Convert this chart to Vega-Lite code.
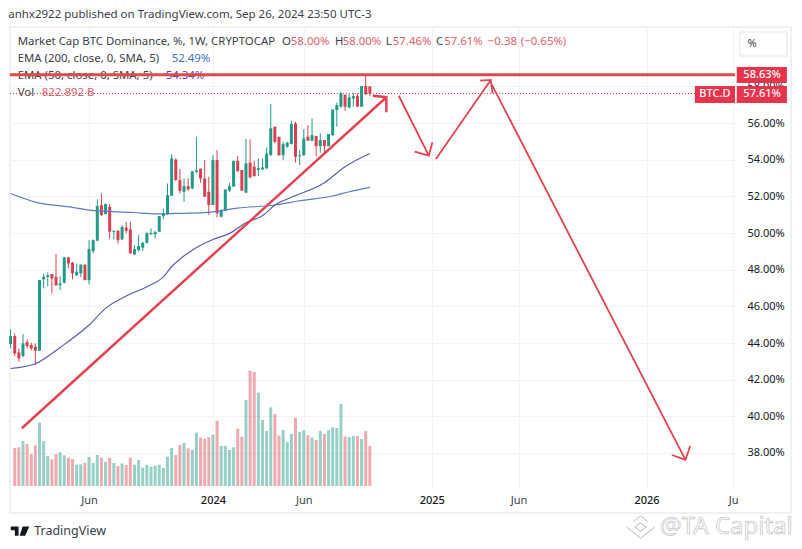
{
  "$schema": "https://vega.github.io/schema/vega-lite/v6.json",
  "autosize": {"type": "none"},
  "padding": {"left": 10, "top": 27, "right": 67, "bottom": 61},
  "width": 725,
  "height": 461,
  "background": "white",
  "config": {"view": {"stroke": null}, "font": "Noto Sans"},
  "title": {"text": "anhx2922 published on TradingView.com, Sep 26, 2024 23:50 UTC-3", "anchor": "start", "offset": 6, "font": "Noto Sans", "fontSize": 11.5, "fontWeight": "normal", "color": "#3a3e4a"},
  "datasets": {
    "candles": [
      {"date":"2023-01-23","open":43.94,"high":44.74,"low":43.70,"close":44.38},
      {"date":"2023-01-30","open":44.38,"high":44.52,"low":43.29,"close":43.43,"volume":782},
      {"date":"2023-02-06","open":43.49,"high":43.70,"low":42.98,"close":43.16,"volume":796},
      {"date":"2023-02-13","open":43.29,"high":44.49,"low":43.21,"close":43.98,"volume":926},
      {"date":"2023-02-20","open":44.05,"high":44.20,"low":43.70,"close":43.83,"volume":864},
      {"date":"2023-02-27","open":43.89,"high":44.01,"low":43.61,"close":43.70,"volume":659},
      {"date":"2023-03-06","open":43.80,"high":43.98,"low":42.80,"close":43.58,"volume":837},
      {"date":"2023-03-13","open":43.58,"high":47.43,"low":43.58,"close":47.43,"volume":1303},
      {"date":"2023-03-20","open":47.47,"high":47.76,"low":46.98,"close":47.61,"volume":926},
      {"date":"2023-03-27","open":47.61,"high":47.85,"low":47.10,"close":47.70,"volume":617},
      {"date":"2023-04-03","open":47.76,"high":47.76,"low":46.70,"close":47.52,"volume":549},
      {"date":"2023-04-10","open":47.61,"high":48.85,"low":47.14,"close":47.14,"volume":659},
      {"date":"2023-04-17","open":47.16,"high":47.65,"low":46.89,"close":47.25,"volume":693},
      {"date":"2023-04-24","open":47.29,"high":48.70,"low":47.25,"close":48.67,"volume":631},
      {"date":"2023-05-01","open":48.67,"high":48.70,"low":48.07,"close":48.34,"volume":583},
      {"date":"2023-05-08","open":48.38,"high":48.43,"low":47.47,"close":47.80,"volume":556},
      {"date":"2023-05-15","open":47.70,"high":48.34,"low":47.65,"close":47.89,"volume":439},
      {"date":"2023-05-22","open":47.80,"high":48.30,"low":47.61,"close":48.27,"volume":446},
      {"date":"2023-05-29","open":48.27,"high":48.30,"low":47.43,"close":47.43,"volume":473},
      {"date":"2023-06-05","open":47.43,"high":49.61,"low":47.20,"close":49.12,"volume":597},
      {"date":"2023-06-12","open":49.01,"high":49.65,"low":48.89,"close":49.61,"volume":473},
      {"date":"2023-06-19","open":49.58,"high":51.83,"low":49.58,"close":51.47,"volume":638},
      {"date":"2023-06-26","open":51.52,"high":52.16,"low":50.92,"close":50.98,"volume":583},
      {"date":"2023-07-03","open":51.03,"high":51.61,"low":51.03,"close":51.58,"volume":494},
      {"date":"2023-07-10","open":51.43,"high":51.58,"low":49.70,"close":50.07,"volume":583},
      {"date":"2023-07-17","open":50.07,"high":50.16,"low":49.65,"close":50.12,"volume":473},
      {"date":"2023-07-24","open":50.12,"high":50.16,"low":49.43,"close":49.61,"volume":412},
      {"date":"2023-07-31","open":49.65,"high":50.43,"low":49.61,"close":50.34,"volume":466},
      {"date":"2023-08-07","open":50.30,"high":50.61,"low":49.98,"close":50.12,"volume":432},
      {"date":"2023-08-14","open":50.20,"high":50.61,"low":48.85,"close":48.89,"volume":583},
      {"date":"2023-08-21","open":48.83,"high":49.34,"low":48.80,"close":49.12,"volume":439},
      {"date":"2023-08-28","open":49.07,"high":49.89,"low":48.98,"close":49.29,"volume":535},
      {"date":"2023-09-04","open":49.20,"high":49.52,"low":49.03,"close":49.47,"volume":377},
      {"date":"2023-09-11","open":49.47,"high":50.07,"low":49.43,"close":49.98,"volume":439},
      {"date":"2023-09-18","open":49.94,"high":50.25,"low":49.90,"close":50.01,"volume":398},
      {"date":"2023-09-25","open":49.94,"high":50.12,"low":49.70,"close":50.05,"volume":418},
      {"date":"2023-10-02","open":50.07,"high":50.92,"low":50.07,"close":50.92,"volume":439},
      {"date":"2023-10-09","open":50.92,"high":51.34,"low":50.74,"close":51.07,"volume":370},
      {"date":"2023-10-16","open":51.03,"high":52.70,"low":50.98,"close":52.07,"volume":604},
      {"date":"2023-10-23","open":52.03,"high":54.30,"low":52.03,"close":54.07,"volume":782},
      {"date":"2023-10-30","open":54.01,"high":54.07,"low":52.85,"close":52.89,"volume":638},
      {"date":"2023-11-06","open":52.89,"high":53.49,"low":52.16,"close":52.30,"volume":844},
      {"date":"2023-11-13","open":52.25,"high":52.98,"low":51.70,"close":52.56,"volume":885},
      {"date":"2023-11-20","open":52.56,"high":52.98,"low":52.30,"close":52.38,"volume":775},
      {"date":"2023-11-27","open":52.43,"high":53.40,"low":52.38,"close":53.36,"volume":741},
      {"date":"2023-12-04","open":53.34,"high":55.25,"low":53.25,"close":53.43,"volume":1098},
      {"date":"2023-12-11","open":53.51,"high":53.51,"low":52.74,"close":52.98,"volume":995},
      {"date":"2023-12-18","open":52.98,"high":53.98,"low":51.98,"close":51.98,"volume":974},
      {"date":"2023-12-25","open":52.25,"high":53.07,"low":50.98,"close":51.53,"volume":1002},
      {"date":"2024-01-01","open":51.53,"high":54.25,"low":51.53,"close":53.98,"volume":1056},
      {"date":"2024-01-08","open":53.98,"high":54.53,"low":50.85,"close":51.07,"volume":1345},
      {"date":"2024-01-15","open":50.89,"high":51.29,"low":50.85,"close":51.22,"volume":823},
      {"date":"2024-01-22","open":51.22,"high":52.38,"low":51.22,"close":52.38,"volume":823},
      {"date":"2024-01-29","open":52.31,"high":52.74,"low":52.25,"close":52.56,"volume":741},
      {"date":"2024-02-05","open":52.53,"high":53.94,"low":52.53,"close":53.94,"volume":796},
      {"date":"2024-02-12","open":53.94,"high":54.20,"low":53.34,"close":53.38,"volume":1180},
      {"date":"2024-02-19","open":53.44,"high":53.44,"low":52.31,"close":52.31,"volume":1015},
      {"date":"2024-02-26","open":52.20,"high":55.13,"low":52.20,"close":53.80,"volume":1770},
      {"date":"2024-03-04","open":53.84,"high":55.11,"low":52.98,"close":53.04,"volume":2374},
      {"date":"2024-03-11","open":53.62,"high":53.94,"low":53.07,"close":53.11,"volume":2346},
      {"date":"2024-03-18","open":53.44,"high":54.07,"low":53.11,"close":53.54,"volume":1921},
      {"date":"2024-03-25","open":53.47,"high":54.07,"low":53.44,"close":53.58,"volume":1358},
      {"date":"2024-04-01","open":53.53,"high":54.67,"low":53.49,"close":54.34,"volume":1132},
      {"date":"2024-04-08","open":54.25,"high":57.04,"low":54.20,"close":55.71,"volume":1619},
      {"date":"2024-04-15","open":55.80,"high":55.80,"low":54.89,"close":54.98,"volume":1482},
      {"date":"2024-04-22","open":55.25,"high":55.25,"low":54.20,"close":54.25,"volume":1036},
      {"date":"2024-04-29","open":54.25,"high":54.98,"low":53.98,"close":54.85,"volume":1152},
      {"date":"2024-05-06","open":54.71,"high":54.98,"low":54.65,"close":54.93,"volume":906},
      {"date":"2024-05-13","open":54.85,"high":56.13,"low":54.85,"close":55.94,"volume":1070},
      {"date":"2024-05-20","open":55.98,"high":56.07,"low":53.84,"close":54.16,"volume":1406},
      {"date":"2024-05-27","open":54.20,"high":54.53,"low":53.71,"close":54.25,"volume":1111},
      {"date":"2024-06-03","open":54.25,"high":55.65,"low":54.20,"close":55.16,"volume":1146},
      {"date":"2024-06-10","open":55.25,"high":55.89,"low":55.04,"close":55.04,"volume":1043},
      {"date":"2024-06-17","open":55.04,"high":56.25,"low":55.00,"close":55.34,"volume":995},
      {"date":"2024-06-24","open":55.29,"high":55.29,"low":54.20,"close":54.74,"volume":947},
      {"date":"2024-07-01","open":54.74,"high":55.44,"low":54.38,"close":55.07,"volume":1132},
      {"date":"2024-07-08","open":55.07,"high":55.07,"low":54.38,"close":54.74,"volume":1070},
      {"date":"2024-07-15","open":54.74,"high":55.40,"low":54.74,"close":55.40,"volume":1146},
      {"date":"2024-07-22","open":55.34,"high":56.74,"low":55.29,"close":56.74,"volume":1207},
      {"date":"2024-07-29","open":56.71,"high":57.11,"low":55.80,"close":56.98,"volume":1194},
      {"date":"2024-08-05","open":56.89,"high":57.71,"low":56.85,"close":57.62,"volume":1688},
      {"date":"2024-08-12","open":57.53,"high":57.58,"low":56.67,"close":56.89,"volume":1022},
      {"date":"2024-08-19","open":56.85,"high":57.62,"low":56.80,"close":57.40,"volume":1008},
      {"date":"2024-08-26","open":57.34,"high":57.65,"low":56.89,"close":57.47,"volume":1029},
      {"date":"2024-09-02","open":57.47,"high":57.62,"low":56.89,"close":56.89,"volume":1029},
      {"date":"2024-09-09","open":56.89,"high":58.02,"low":56.89,"close":58.02,"volume":967},
      {"date":"2024-09-16","open":58.02,"high":58.62,"low":57.53,"close":57.58,"volume":1132},
      {"date":"2024-09-23","open":58.00,"high":58.00,"low":57.46,"close":57.61,"volume":823}
    ],
    "ema200": [
      {"date":"2023-01-23","pct":52.16},{"date":"2023-03-06","pct":51.69},{"date":"2023-05-08","pct":51.40},{"date":"2023-06-05","pct":51.25},
      {"date":"2023-08-21","pct":51.12},{"date":"2023-09-25","pct":51.05},{"date":"2023-10-30","pct":51.07},{"date":"2023-12-18","pct":51.11},
      {"date":"2024-02-12","pct":51.36},{"date":"2024-04-15","pct":51.53},{"date":"2024-05-27","pct":51.76},{"date":"2024-07-22","pct":52.02},
      {"date":"2024-08-19","pct":52.25},{"date":"2024-09-23","pct":52.49}
    ],
    "ema50": [
      {"date":"2023-01-23","pct":42.61},{"date":"2023-03-06","pct":42.87},{"date":"2023-04-17","pct":43.76},{"date":"2023-06-05","pct":44.98},
      {"date":"2023-07-03","pct":45.89},{"date":"2023-08-07","pct":46.56},{"date":"2023-09-11","pct":47.07},{"date":"2023-10-09","pct":47.61},
      {"date":"2023-10-23","pct":48.16},{"date":"2023-11-27","pct":49.07},{"date":"2024-01-01","pct":49.65},{"date":"2024-01-29","pct":49.98},
      {"date":"2024-02-26","pct":50.56},{"date":"2024-03-25","pct":50.94},{"date":"2024-04-15","pct":51.53},{"date":"2024-05-13","pct":51.95},
      {"date":"2024-07-08","pct":52.74},{"date":"2024-08-12","pct":53.62},{"date":"2024-09-23","pct":54.34}
    ],
    "levels": [
      {"date":"2023-01-22","date2":"2026-06-04","pct":58.63,"line":"drawn"},
      {"date":"2023-01-22","date2":"2026-06-04","pct":57.61,"line":"last"}
    ],
    "arrows": [
      {"path":"trend","pen":"thick","step":1,"date":"2023-02-11","pct":39.35},
      {"path":"trend","pen":"thick","step":2,"date":"2024-10-21","pct":57.41},
      {"path":"trendhead","pen":"thick","step":1,"date":"2024-09-28","pct":57.49},
      {"path":"trendhead","pen":"thick","step":2,"date":"2024-10-21","pct":57.41},
      {"path":"trendhead","pen":"thick","step":3,"date":"2024-10-21","pct":56.59},
      {"path":"down1","pen":"thin","step":1,"date":"2024-11-11","pct":57.49},
      {"path":"down1","pen":"thin","step":2,"date":"2025-01-01","pct":54.22},
      {"path":"down1head","pen":"thin","step":1,"date":"2024-12-08","pct":54.44},
      {"path":"down1head","pen":"thin","step":2,"date":"2025-01-01","pct":54.22},
      {"path":"down1head","pen":"thin","step":3,"date":"2025-01-07","pct":54.95},
      {"path":"up","pen":"thin","step":1,"date":"2025-01-13","pct":54.04},
      {"path":"up","pen":"thin","step":2,"date":"2025-04-16","pct":58.35},
      {"path":"uphead","pen":"thin","step":1,"date":"2025-03-29","pct":58.31},
      {"path":"uphead","pen":"thin","step":2,"date":"2025-04-16","pct":58.35},
      {"path":"uphead","pen":"thin","step":3,"date":"2025-04-19","pct":57.62},
      {"path":"down2","pen":"thin","step":1,"date":"2025-04-18","pct":58.08},
      {"path":"down2","pen":"thin","step":2,"date":"2026-03-12","pct":37.62},
      {"path":"down2head","pen":"thin","step":1,"date":"2026-02-17","pct":37.89},
      {"path":"down2head","pen":"thin","step":2,"date":"2026-03-12","pct":37.62},
      {"path":"down2head","pen":"thin","step":3,"date":"2026-03-20","pct":38.38}
    ],
    "legendText": [
      {"date":"2023-02-04","pct":60.42,"label":"Market Cap BTC Dominance, %, 1W, CRYPTOCAP","kind":"ink"},
      {"date":"2024-04-27","pct":60.42,"label":"O","kind":"ink"},
      {"date":"2024-05-12","pct":60.42,"label":"58.00%","kind":"down"},
      {"date":"2024-07-26","pct":60.42,"label":"H","kind":"ink"},
      {"date":"2024-08-08","pct":60.42,"label":"58.00%","kind":"down"},
      {"date":"2024-10-20","pct":60.42,"label":"L","kind":"ink"},
      {"date":"2024-11-01","pct":60.42,"label":"57.46%","kind":"down"},
      {"date":"2025-01-13","pct":60.42,"label":"C","kind":"ink"},
      {"date":"2025-01-27","pct":60.42,"label":"57.61%","kind":"down"},
      {"date":"2025-04-11","pct":60.42,"label":"−0.38","kind":"down"},
      {"date":"2025-06-06","pct":60.42,"label":"(−0.65%)","kind":"down"},
      {"date":"2023-02-04","pct":59.49,"label":"EMA (200, close, 0, SMA, 5)","kind":"ink"},
      {"date":"2023-10-23","pct":59.49,"label":"52.49%","kind":"ema200"},
      {"date":"2023-02-04","pct":58.57,"label":"EMA (50, close, 0, SMA, 5)","kind":"ink"},
      {"date":"2023-10-13","pct":58.57,"label":"54.34%","kind":"ema50"},
      {"date":"2023-02-04","pct":57.64,"label":"Vol","kind":"ink"},
      {"date":"2023-03-17","pct":57.64,"label":"822.892 B","kind":"down"}
    ],
    "frames": [
      {"date":"2023-01-22","date2":"2026-09-07","top":61.24,"bottom":34.73,"part":"frame"},
      {"date":"2026-06-12","date2":"2026-08-31","top":60.97,"bottom":59.66,"part":"scalebox"}
    ],
    "tags": [
      {"date":"2026-06-07","date2":"2026-08-31","top":59.06,"bottom":58.19},
      {"date":"2026-06-07","date2":"2026-08-31","top":58.02,"bottom":57.09},
      {"date":"2026-03-28","date2":"2026-06-04","top":58.02,"bottom":57.09}
    ],
    "tagText": [
      {"date":"2026-07-20","pct":58.63,"label":"58.63%"},
      {"date":"2026-07-20","pct":57.56,"label":"57.61%"},
      {"date":"2026-05-01","pct":57.56,"label":"BTC.D"}
    ],
    "footer": [
      {"date":"2023-03-04","pct":33.74,"label":"TradingView"}
    ],
    "logo": [
      {"date":"2023-02-08","pct":33.74}
    ],
    "watermark": [
      {"date":"2026-01-28","pct":33.96,"label":"@TA Capital"}
    ],
    "watermarkIcon": [
      {"date":"2025-12-26","pct":33.96}
    ],
    "scaleUnit": [
      {"date":"2026-07-03","pct":60.31,"label":"%"}
    ]
  },
  "encoding": {
    "x": {
      "field": "date",
      "type": "temporal",
      "title": null,
      "scale": {"type": "utc", "domain": ["2023-01-22", "2026-06-04"], "padding": 0},
      "axis": {
        "values": [
          {"utc": true, "year": 2023, "month": "jun", "date": 5},
          {"utc": true, "year": 2024, "month": "jan", "date": 1},
          {"utc": true, "year": 2024, "month": "jun", "date": 3},
          {"utc": true, "year": 2025, "month": "jan", "date": 6},
          {"utc": true, "year": 2025, "month": "jun", "date": 2},
          {"utc": true, "year": 2026, "month": "jan", "date": 5},
          {"utc": true, "year": 2026, "month": "jun", "date": 1}
        ],
        "labelExpr": "utcyear(datum.value) == 2026 && utcmonth(datum.value) == 5 ? 'Ju' : utcmonth(datum.value) == 0 ? utcFormat(datum.value, '%Y') : utcFormat(datum.value, '%b')",
        "labelFontSize": 11,
        "labelColor": {"condition": {"test": "utcmonth(datum.value) == 0", "value": "#131722"}, "value": "#3a3e4a"},
        "labelFontWeight": {"condition": {"test": "utcmonth(datum.value) == 0", "value": 500}, "value": 400},
        "labelPadding": 6,
        "labelFlush": false,
        "labelBound": false,
        "labelOverlap": false,
        "grid": true,
        "gridColor": "#f2f3f5",
        "ticks": false,
        "domain": false
      }
    }
  },
  "layer": [
    {
      "data": {"name": "candles"},
      "mark": {"type": "bar", "size": 3, "opacity": 0.47},
      "encoding": {
        "y": {"field": "volume", "type": "quantitative", "axis": null, "scale": {"domain": [-41, 9444], "nice": false, "zero": false}},
        "color": {"condition": {"test": "datum.close >= datum.open", "value": "#1f9b88"}, "value": "#de4a55"}
      }
    },
    {
      "layer": [
        {
          "data": {"name": "frames"},
          "mark": {"type": "rect", "fill": "white", "fillOpacity": 0, "stroke": "#eff1f4", "strokeWidth": 2},
          "encoding": {
            "x2": {"field": "date2"},
            "y": {
              "field": "top",
              "type": "quantitative",
              "title": null,
              "scale": {"domain": [36.09, 61.24], "nice": false, "zero": false},
              "axis": {
                "orient": "right",
                "values": [38, 40, 42, 44, 46, 48, 50, 52, 54, 56, 58],
                "labelExpr": "format(datum.value, '.2f') + '%'",
                "labelFontSize": 11,
                "labelColor": "#131722",
                "labelPadding": 12,
                "labelOverlap": false,
                "grid": true,
                "gridColor": "#f2f3f5",
                "ticks": false,
                "domain": false
              }
            },
            "y2": {"field": "bottom"}
          }
        },
        {
          "data": {"name": "legendText"},
          "mark": {"type": "text", "align": "left", "baseline": "middle", "fontSize": 11.4},
          "encoding": {
            "y": {"field": "pct", "type": "quantitative", "title": null},
            "text": {"field": "label"},
            "color": {"field": "kind", "type": "nominal", "legend": null, "scale": {"domain": ["ink", "down", "ema200", "ema50"], "range": ["#3a3e4a", "#e0606c", "#3f6fc4", "#5a35c8"]}}
          }
        },
        {
          "data": {"name": "candles"},
          "mark": {"type": "rule", "strokeWidth": 1},
          "encoding": {
            "y": {"field": "low", "type": "quantitative", "title": null},
            "y2": {"field": "high"},
            "color": {"condition": {"test": "datum.close >= datum.open", "value": "#1f9b88"}, "value": "#d9404f"}
          }
        },
        {
          "data": {"name": "candles"},
          "mark": {"type": "rule", "strokeWidth": 3},
          "encoding": {
            "y": {"field": "open", "type": "quantitative", "title": null},
            "y2": {"field": "close"},
            "color": {"condition": {"test": "datum.close >= datum.open", "value": "#1f9b88"}, "value": "#d9404f"}
          }
        },
        {
          "data": {"name": "ema200"},
          "mark": {"type": "line", "strokeWidth": 1.2, "color": "#5b7cc4", "interpolate": "monotone"},
          "encoding": {"y": {"field": "pct", "type": "quantitative", "title": null}}
        },
        {
          "data": {"name": "ema50"},
          "mark": {"type": "line", "strokeWidth": 1.2, "color": "#5a5db0", "interpolate": "monotone"},
          "encoding": {"y": {"field": "pct", "type": "quantitative", "title": null}}
        },
        {
          "data": {"name": "levels"},
          "transform": [{"filter": "datum.line == 'last'"}],
          "mark": {"type": "rule", "strokeWidth": 1, "strokeDash": [1, 2], "color": "#d9404f"},
          "encoding": {"x2": {"field": "date2"}, "y": {"field": "pct", "type": "quantitative", "title": null}}
        },
        {
          "data": {"name": "levels"},
          "transform": [{"filter": "datum.line == 'drawn'"}],
          "mark": {"type": "rule", "strokeWidth": 3, "color": "#df4a4a"},
          "encoding": {"x2": {"field": "date2"}, "y": {"field": "pct", "type": "quantitative", "title": null}}
        },
        {
          "data": {"name": "arrows"},
          "transform": [{"filter": "datum.pen == 'thick'"}],
          "mark": {"type": "line", "strokeWidth": 2.5, "color": "#e2434f"},
          "encoding": {
            "y": {"field": "pct", "type": "quantitative", "title": null},
            "detail": {"field": "path"},
            "order": {"field": "step"}
          }
        },
        {
          "data": {"name": "arrows"},
          "transform": [{"filter": "datum.pen == 'thin'"}],
          "mark": {"type": "line", "strokeWidth": 1.8, "color": "#e2434f"},
          "encoding": {
            "y": {"field": "pct", "type": "quantitative", "title": null},
            "detail": {"field": "path"},
            "order": {"field": "step"}
          }
        },
        {
          "data": {"name": "tags"},
          "mark": {"type": "rect", "fill": "#e8334a"},
          "encoding": {"x2": {"field": "date2"}, "y": {"field": "top", "type": "quantitative", "title": null}, "y2": {"field": "bottom"}}
        },
        {
          "data": {"name": "tagText"},
          "mark": {"type": "text", "align": "center", "baseline": "middle", "fontSize": 11, "fontWeight": 500, "color": "white"},
          "encoding": {"y": {"field": "pct", "type": "quantitative", "title": null}, "text": {"field": "label"}}
        },
        {
          "data": {"name": "scaleUnit"},
          "mark": {"type": "text", "align": "center", "baseline": "middle", "fontSize": 11, "color": "#3a3e4a"},
          "encoding": {"y": {"field": "pct", "type": "quantitative", "title": null}, "text": {"field": "label"}}
        },
        {
          "data": {"name": "footer"},
          "mark": {"type": "text", "align": "left", "baseline": "middle", "fontSize": 12.5, "color": "#3a3e4a"},
          "encoding": {"y": {"field": "pct", "type": "quantitative", "title": null}, "text": {"field": "label"}}
        },
        {
          "data": {"name": "logo"},
          "mark": {"type": "point", "filled": true, "opacity": 1, "size": 1370, "color": "#131722", "shape": "M-0.5,-0.25 H-0.08 V0.25 H-0.28 V-0.05 H-0.5 Z M0.14,-0.25 H0.5 L0.28,0.25 H-0.02 Z"},
          "encoding": {"y": {"field": "pct", "type": "quantitative", "title": null}}
        },
        {
          "data": {"name": "watermark"},
          "mark": {"type": "text", "align": "left", "baseline": "middle", "fontSize": 24, "fill": "white", "stroke": "#b8babd", "strokeWidth": 0.6},
          "encoding": {"y": {"field": "pct", "type": "quantitative", "title": null}, "text": {"field": "label"}}
        },
        {
          "data": {"name": "watermarkIcon"},
          "mark": {"type": "point", "filled": false, "opacity": 1, "size": 3136, "color": "#b5b7ba", "strokeWidth": 1, "shape": "M-0.25,-0.2 L0,-0.4 L0.25,-0.2 M-0.2,0 L0,-0.15 L0.2,0 L0,0.15 Z M-0.5,0 L0,0.4 L0.5,0"},
          "encoding": {"y": {"field": "pct", "type": "quantitative", "title": null}}
        }
      ]
    }
  ],
  "resolve": {"scale": {"y": "independent"}}
}
